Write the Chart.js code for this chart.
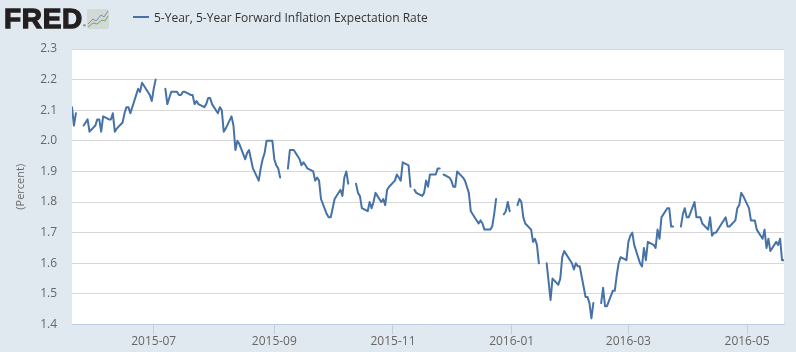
<!DOCTYPE html>
<html>
<head>
<meta charset="utf-8">
<title>5-Year, 5-Year Forward Inflation Expectation Rate</title>
<script src="https://cdn.jsdelivr.net/npm/chart.js@4"></script>
<style>
html, body { margin: 0; padding: 0; background: #e1e9f0; width: 796px; height: 352px; overflow: hidden; }
#chart1 { position: absolute; left: 0; top: 0; }
#logo { position: absolute; left: 4px; top: 3px; font: bold 28px "Liberation Sans", sans-serif; color: #231f20; -webkit-text-stroke: 1.3px #231f20; letter-spacing: 0.7px; line-height: 32px; }
#logo sup { font-size: 4px; -webkit-text-stroke: 0; position: absolute; left: 79px; top: 20px; line-height: 6px; }
#icon { position: absolute; left: 87px; top: 9px; }
#legend { position: absolute; left: 133px; top: 9px; font: 12px "Open Sans", sans-serif; color: #333; line-height: 18px; white-space: nowrap; }
#legend i { display: inline-block; width: 16px; height: 2px; background: #4572a7; vertical-align: 4px; margin-right: 5px; }
</style>
</head>
<body>
<canvas id="chart1" width="796" height="352"></canvas>
<div id="logo">FRED<sup>®</sup></div>
<svg id="icon" width="22" height="20">
  <rect width="22" height="20" rx="2" fill="#d3d9d6"/>
  <polyline points="1,15 6,10 9,12 14,6 17,8 21,2" fill="none" stroke="#6f93b8" stroke-width="1"/>
  <polyline points="1,18 6,14 10,15 15,11 18,12 21,7" fill="none" stroke="#7fa35a" stroke-width="1"/>
</svg>
<div id="legend"><i></i>5-Year, 5-Year Forward Inflation Expectation Rate</div>
<script>
var seriesName = "5-Year, 5-Year Forward Inflation Expectation Rate";
var yTicks = [1.4, 1.5, 1.6, 1.7, 1.8, 1.9, 2.0, 2.1, 2.2, 2.3];
var xTickLabels = ["2015-07", "2015-09", "2015-11", "2016-01", "2016-03", "2016-05"];

var dates = [
  "2015-05-20","2015-05-21","2015-05-22",
  "2015-05-25","2015-05-26","2015-05-27","2015-05-28","2015-05-29",
  "2015-06-01","2015-06-02","2015-06-03","2015-06-04","2015-06-05",
  "2015-06-08","2015-06-09","2015-06-10","2015-06-11","2015-06-12",
  "2015-06-15","2015-06-16","2015-06-17","2015-06-18","2015-06-19",
  "2015-06-22","2015-06-23","2015-06-24","2015-06-25","2015-06-26",
  "2015-06-29","2015-06-30","2015-07-01","2015-07-02","2015-07-03",
  "2015-07-06","2015-07-07","2015-07-08","2015-07-09","2015-07-10",
  "2015-07-13","2015-07-14","2015-07-15","2015-07-16","2015-07-17",
  "2015-07-20","2015-07-21","2015-07-22","2015-07-23","2015-07-24",
  "2015-07-27","2015-07-28","2015-07-29","2015-07-30","2015-07-31",
  "2015-08-03","2015-08-04","2015-08-05","2015-08-06","2015-08-07",
  "2015-08-10","2015-08-11","2015-08-12","2015-08-13","2015-08-14",
  "2015-08-17","2015-08-18","2015-08-19","2015-08-20","2015-08-21",
  "2015-08-24","2015-08-25","2015-08-26","2015-08-27","2015-08-28",
  "2015-08-31","2015-09-01","2015-09-02","2015-09-03","2015-09-04",
  "2015-09-07","2015-09-08","2015-09-09","2015-09-10","2015-09-11",
  "2015-09-14","2015-09-15","2015-09-16","2015-09-17","2015-09-18",
  "2015-09-21","2015-09-22","2015-09-23","2015-09-24","2015-09-25",
  "2015-09-28","2015-09-29","2015-09-30","2015-10-01","2015-10-02",
  "2015-10-05","2015-10-06","2015-10-07","2015-10-08","2015-10-09",
  "2015-10-12","2015-10-13","2015-10-14","2015-10-15","2015-10-16",
  "2015-10-19","2015-10-20","2015-10-21","2015-10-22","2015-10-23",
  "2015-10-26","2015-10-27","2015-10-28","2015-10-29","2015-10-30",
  "2015-11-02","2015-11-03","2015-11-04","2015-11-05","2015-11-06",
  "2015-11-09","2015-11-10","2015-11-11","2015-11-12","2015-11-13",
  "2015-11-16","2015-11-17","2015-11-18","2015-11-19","2015-11-20",
  "2015-11-23","2015-11-24","2015-11-25","2015-11-26","2015-11-27",
  "2015-11-30","2015-12-01","2015-12-02","2015-12-03","2015-12-04",
  "2015-12-07","2015-12-08","2015-12-09","2015-12-10","2015-12-11",
  "2015-12-14","2015-12-15","2015-12-16","2015-12-17","2015-12-18",
  "2015-12-21","2015-12-22","2015-12-23","2015-12-24","2015-12-25",
  "2015-12-28","2015-12-29","2015-12-30","2015-12-31","2016-01-01",
  "2016-01-04","2016-01-05","2016-01-06","2016-01-07","2016-01-08",
  "2016-01-11","2016-01-12","2016-01-13","2016-01-14","2016-01-15",
  "2016-01-18","2016-01-19","2016-01-20","2016-01-21","2016-01-22",
  "2016-01-25","2016-01-26","2016-01-27","2016-01-28","2016-01-29",
  "2016-02-01","2016-02-02","2016-02-03","2016-02-04","2016-02-05",
  "2016-02-08","2016-02-09","2016-02-10","2016-02-11","2016-02-12",
  "2016-02-15","2016-02-16","2016-02-17","2016-02-18","2016-02-19",
  "2016-02-22","2016-02-23","2016-02-24","2016-02-25","2016-02-26",
  "2016-02-29","2016-03-01","2016-03-02","2016-03-03","2016-03-04",
  "2016-03-07","2016-03-08","2016-03-09","2016-03-10","2016-03-11",
  "2016-03-14","2016-03-15","2016-03-16","2016-03-17","2016-03-18",
  "2016-03-21","2016-03-22","2016-03-23","2016-03-24","2016-03-25",
  "2016-03-28","2016-03-29","2016-03-30","2016-03-31","2016-04-01",
  "2016-04-04","2016-04-05","2016-04-06","2016-04-07","2016-04-08",
  "2016-04-11","2016-04-12","2016-04-13","2016-04-14","2016-04-15",
  "2016-04-18","2016-04-19","2016-04-20","2016-04-21","2016-04-22",
  "2016-04-25","2016-04-26","2016-04-27","2016-04-28","2016-04-29",
  "2016-05-02","2016-05-03","2016-05-04","2016-05-05","2016-05-06",
  "2016-05-09","2016-05-10","2016-05-11","2016-05-12","2016-05-13",
  "2016-05-16","2016-05-17","2016-05-18","2016-05-19","2016-05-20"
];

var rates = [
  2.11,2.05,2.09,
  null,2.05,2.06,2.07,2.03,
  2.05,2.07,2.07,2.03,2.08,
  2.07,2.07,2.09,2.03,2.04,
  2.06,2.09,2.11,2.11,2.09,
  2.15,2.17,2.16,2.19,2.18,
  2.15,2.13,2.17,2.20,null,
  null,2.17,2.12,2.14,2.16,
  2.16,2.15,2.15,2.16,2.16,
  2.15,2.15,2.12,2.13,2.12,
  2.11,2.12,2.14,2.14,2.12,
  2.09,2.11,2.10,2.03,2.04,
  2.08,2.05,1.97,2.00,1.99,
  1.94,1.96,1.97,1.94,1.91,
  1.87,1.91,1.94,1.96,2.00,
  2.00,1.94,1.92,1.91,1.88,
  null,1.91,1.97,1.97,1.97,
  1.94,1.92,1.93,1.92,1.91,
  1.90,1.87,1.88,1.87,1.81,
  1.76,1.75,1.75,1.78,1.81,
  1.84,1.82,1.88,1.90,1.86,
  null,1.86,1.83,1.82,1.78,
  1.77,1.80,1.78,1.80,1.83,
  1.80,1.81,1.79,1.84,1.85,
  1.87,1.89,1.88,1.87,1.93,
  1.92,1.85,null,1.84,1.83,
  1.82,1.83,1.87,1.85,1.89,
  1.89,1.91,1.91,null,1.89,
  1.88,1.87,1.85,1.85,1.90,
  1.88,1.87,1.85,1.83,1.77,
  1.74,1.73,1.74,1.73,1.71,
  1.71,1.72,1.76,1.81,null,
  1.76,1.77,1.80,1.77,null,
  1.79,1.81,1.80,1.75,1.73,
  1.71,1.67,1.68,1.66,1.60,
  null,1.60,1.54,1.48,1.55,
  1.53,1.55,1.62,1.64,1.63,
  1.60,1.58,1.60,1.59,1.59,
  1.49,1.49,1.47,1.42,1.47,
  null,1.47,1.52,1.46,1.46,
  1.51,1.51,1.56,1.60,1.62,
  1.61,1.67,1.69,1.70,1.66,
  1.60,1.59,1.65,1.61,1.67,
  1.66,1.65,1.71,1.68,1.75,
  1.78,1.78,1.72,1.72,null,
  1.72,1.76,1.78,1.75,1.75,
  1.80,1.75,1.75,1.75,1.73,
  1.71,1.75,1.69,1.70,1.70,
  1.73,1.74,1.75,1.72,1.72,
  1.74,1.78,1.79,1.83,1.82,
  1.78,1.74,1.74,1.74,1.71,
  1.68,1.71,1.65,1.68,1.64,
  1.67,1.66,1.68,1.61,1.61
];

var points = [];
dates.forEach(function(d, i) {
    points.push({x: Date.parse(d), y: rates[i]});
});

// white plot background, the page itself stays blue-grey
var plotBackground = {
    id: 'plotBackground',
    beforeDraw: function(chart) {
        var a = chart.chartArea;
        chart.ctx.fillStyle = '#ffffff';
        chart.ctx.fillRect(a.left, a.top, a.right - a.left, a.bottom - a.top);
    }
};

var ctx = document.getElementById("chart1").getContext('2d');
var myChart = new Chart(ctx, {
    type: 'line',
    data: {
        datasets: [{
            label: seriesName,
            data: points,
            borderColor: '#4572a7',
            borderWidth: 2,
            borderJoinStyle: 'round',
            borderCapStyle: 'round',
            pointRadius: 0,
            tension: 0,
            spanGaps: false
        }]
    },
    options: {
        responsive: false,
        animation: false,
        layout: { padding: { top: 49, right: 12, left: 0, bottom: 0 } },
        plugins: { legend: { display: false }, tooltip: { enabled: false } },
        scales: {
            x: {
                type: 'linear',
                min: Date.parse(dates[0]),
                max: Date.parse(dates[dates.length - 1]),
                afterBuildTicks: function(scale) {
                    scale.ticks = xTickLabels.map(function(t) {
                        return {value: Date.parse(t + "-01"), label: t};
                    });
                },
                afterTickToLabelConversion: function(scale) {
                    scale.ticks.forEach(function(t, i) { t.label = xTickLabels[i]; });
                },
                afterFit: function(scale) { scale.height = 27.5; },
                ticks: {
                    autoSkip: false,
                    maxRotation: 0,
                    padding: 0,
                    color: '#666666',
                    font: { family: '"Open Sans"', size: 12 }
                },
                border: { color: '#c0d0e0' },
                grid: { drawOnChartArea: false, tickLength: 10, tickColor: '#c0d0e0' }
            },
            y: {
                min: 1.4,
                max: 2.3,
                afterBuildTicks: function(scale) {
                    scale.ticks = yTicks.map(function(v) { return {value: v}; });
                },
                afterFit: function(scale) { scale.width = 72; },
                ticks: {
                    padding: 15,
                    color: '#666666',
                    font: { family: '"Open Sans"', size: 12 },
                    callback: function(v) { return v.toFixed(1); }
                },
                title: {
                    display: true,
                    text: '(Percent)',
                    color: '#666666',
                    font: { family: '"Open Sans"', size: 11 },
                    padding: { top: 14, bottom: 0 }
                },
                border: { display: false },
                grid: { color: '#d8d8d8', tickLength: 0 }
            }
        }
    },
    plugins: [plotBackground]
});
</script>
</body>
</html>
